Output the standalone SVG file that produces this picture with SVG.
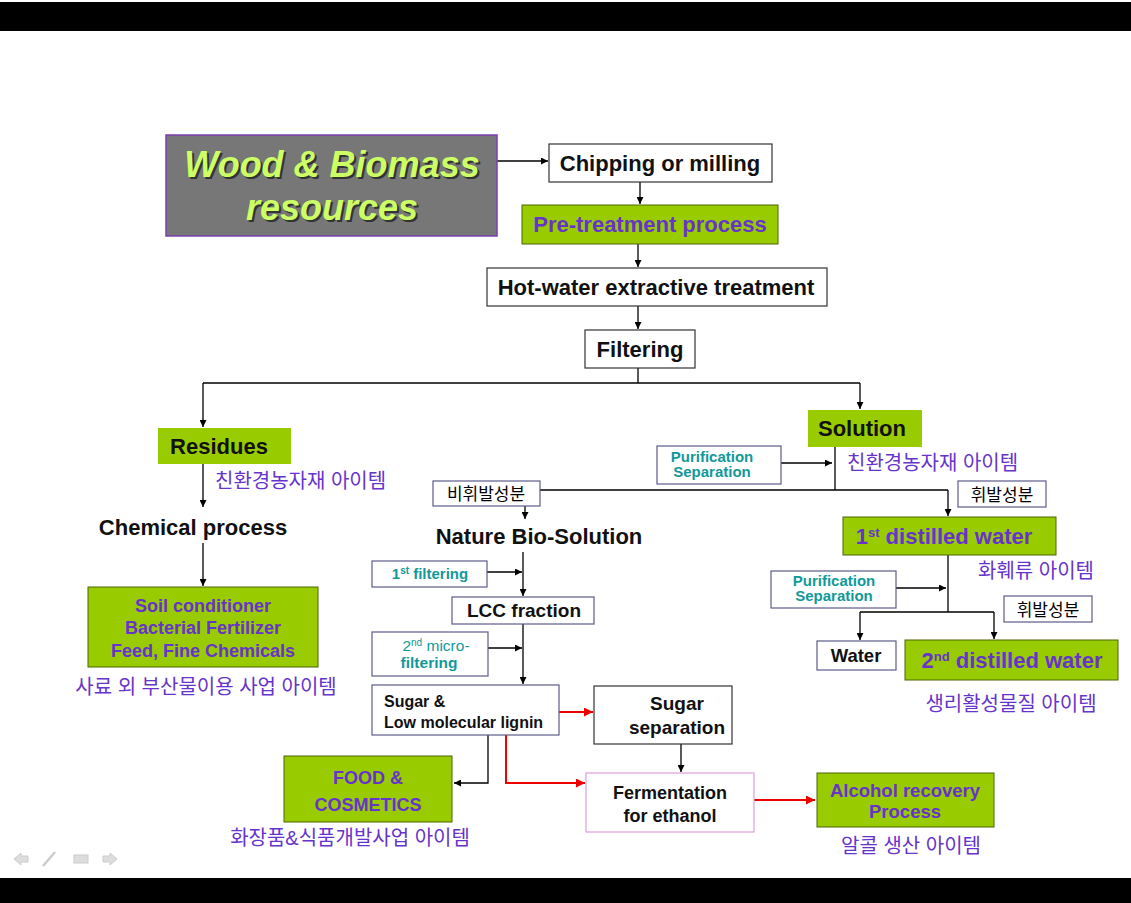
<svg xmlns="http://www.w3.org/2000/svg" width="1131" height="903" viewBox="0 0 1131 903">
  <style>
    .box { fill: #ffffff; stroke: #333333; stroke-width: 1.2; }
    .pbox { fill: #ffffff; stroke: #5c5c8a; stroke-width: 1.2; }
    .green { fill: #99cc00; stroke: #4d6600; stroke-width: 1; }
    .gflat { fill: #99cc00; }
    .t { font-family: "Liberation Sans", Arial, sans-serif; font-size: 22px; font-weight: bold; fill: #111; text-anchor: middle; }
    .s18 { font-size: 18px; }
    .l { text-anchor: start; }
    .pur { fill: #6633cc; }
    .teal { font-family: "Liberation Sans", Arial, sans-serif; font-size: 15px; font-weight: bold; fill: #119999; text-anchor: middle; }
    .kr { font-family: "Liberation Sans", "Noto Sans CJK KR", sans-serif; font-size: 20px; fill: #6633cc; }
    .krb { font-family: "Liberation Sans", "Noto Sans CJK KR", sans-serif; font-size: 17px; fill: #000; text-anchor: middle; }
    .ln { fill: none; stroke: #000; stroke-width: 1.3; }
    .red { fill: none; stroke: #ee0000; stroke-width: 2; }
  </style>
  <defs>
    <marker id="ah" viewBox="0 0 10 10" refX="10" refY="5" markerWidth="7" markerHeight="7" markerUnits="userSpaceOnUse" orient="auto">
      <path d="M0,0 L10,5 L0,10 z" fill="#000"/>
    </marker>
    <marker id="ahr" viewBox="0 0 10 10" refX="10" refY="5" markerWidth="9" markerHeight="9" markerUnits="userSpaceOnUse" orient="auto">
      <path d="M0,0 L10,5 L0,10 z" fill="#ee0000"/>
    </marker>
  </defs>

  <rect width="1131" height="903" fill="#ffffff"/>
  <!-- slide frame bars -->
  <rect x="0" y="2" width="1131" height="29" fill="#000"/>
  <rect x="0" y="878" width="1131" height="25" fill="#000"/>

  <!-- connectors -->
  <g id="connectors">
    <path class="ln" d="M497,161 H548" marker-end="url(#ah)"/>
    <path class="ln" d="M640,182 V204" marker-end="url(#ah)"/>
    <path class="ln" d="M638,244 V267" marker-end="url(#ah)"/>
    <path class="ln" d="M638,306 V329" marker-end="url(#ah)"/>
    <path class="ln" d="M638,368 V383"/>
    <path class="ln" d="M203,383 H860"/>
    <path class="ln" d="M203,383 V427" marker-end="url(#ah)"/>
    <path class="ln" d="M860,383 V409" marker-end="url(#ah)"/>
    <path class="ln" d="M203,464 V507" marker-end="url(#ah)"/>
    <path class="ln" d="M203,543 V586" marker-end="url(#ah)"/>
    <path class="ln" d="M835,447 V490"/>
    <path class="ln" d="M781,463 H832" marker-end="url(#ah)"/>
    <path class="ln" d="M525,490 H948"/>
    <path class="ln" d="M525,490 V519" marker-end="url(#ah)"/>
    <path class="ln" d="M948,490 V516" marker-end="url(#ah)"/>
    <path class="ln" d="M948,555 V612"/>
    <path class="ln" d="M896,588 H946" marker-end="url(#ah)"/>
    <path class="ln" d="M860,612 H994"/>
    <path class="ln" d="M860,612 V640" marker-end="url(#ah)"/>
    <path class="ln" d="M994,612 V639" marker-end="url(#ah)"/>
    <path class="ln" d="M523,552 V596" marker-end="url(#ah)"/>
    <path class="ln" d="M487,572 H522" marker-end="url(#ah)"/>
    <path class="ln" d="M523,624 V684" marker-end="url(#ah)"/>
    <path class="ln" d="M488,648 H522" marker-end="url(#ah)"/>
    <path class="red" d="M559,712 H593" marker-end="url(#ahr)"/>
    <path class="ln" d="M681,744 V772" marker-end="url(#ah)"/>
    <path class="red" d="M506,735 V783 H585" marker-end="url(#ahr)"/>
    <path class="ln" d="M488,735 V783 H454" marker-end="url(#ah)"/>
    <path class="red" d="M754,800 H815" marker-end="url(#ahr)"/>
  </g>

  <g id="wood-biomass">
    <rect x="166" y="135" width="331" height="101" fill="#777777" stroke="#7a3fb0" stroke-width="1.5"/>
    <g font-family="'Liberation Sans', Arial, sans-serif" font-size="36" font-weight="bold" font-style="italic" text-anchor="middle">
      <text x="334" y="179" fill="#333333">Wood &amp; Biomass</text>
      <text x="334" y="222" fill="#333333">resources</text>
      <text x="332" y="177" fill="#ccff66">Wood &amp; Biomass</text>
      <text x="332" y="220" fill="#ccff66">resources</text>
    </g>
  </g>

  <g id="chipping">
    <rect class="box" x="549" y="144" width="223" height="38"/>
    <text class="t" x="660" y="171">Chipping or milling</text>
  </g>
  <g id="pretreatment">
    <rect class="green" x="522" y="205" width="256" height="39"/>
    <text class="t pur" x="650" y="232">Pre-treatment process</text>
  </g>
  <g id="hotwater">
    <rect class="box" x="487" y="268" width="340" height="38"/>
    <text class="t" x="656" y="295">Hot-water extractive treatment</text>
  </g>
  <g id="filtering">
    <rect class="box" x="585" y="330" width="110" height="38"/>
    <text class="t" x="640" y="357">Filtering</text>
  </g>

  <g id="residues">
    <rect class="gflat" x="158" y="428" width="133" height="36"/>
    <text class="t" x="219" y="454">Residues</text>
    <text class="kr" x="215" y="488">친환경농자재 아이템</text>
  </g>
  <g id="chemical">
    <text class="t" x="193" y="535">Chemical process</text>
  </g>
  <g id="soil">
    <rect class="green" x="88" y="587" width="230" height="80"/>
    <text class="t s18 pur" x="203" y="612">Soil conditioner</text>
    <text class="t s18 pur" x="203" y="634">Bacterial Fertilizer</text>
    <text class="t s18 pur" x="203" y="657">Feed, Fine Chemicals</text>
    <text class="kr" x="206" y="694" text-anchor="middle">사료 외 부산물이용 사업 아이템</text>
  </g>

  <g id="solution">
    <rect class="gflat" x="808" y="410" width="114" height="37"/>
    <text class="t" x="862" y="436">Solution</text>
    <text class="kr" x="847" y="470">친환경농자재 아이템</text>
  </g>
  <g id="purification-1">
    <rect class="pbox" x="657" y="446" width="124" height="38"/>
    <text class="teal" x="712" y="462">Purification</text>
    <text class="teal" x="712" y="477">Separation</text>
  </g>
  <g id="nonvolatile">
    <rect class="pbox" x="433" y="481" width="107" height="25"/>
    <text class="krb" x="486" y="500">비휘발성분</text>
  </g>
  <g id="volatile-1">
    <rect class="pbox" x="958" y="481" width="88" height="26"/>
    <text class="krb" x="1002" y="501">휘발성분</text>
  </g>
  <g id="nature-bio">
    <text class="t" x="539" y="544">Nature Bio-Solution</text>
  </g>
  <g id="distilled-1">
    <rect class="green" x="843" y="517" width="213" height="38"/>
    <text class="t pur" x="944" y="544">1<tspan font-size="13" dy="-7">st</tspan><tspan dy="7"> distilled water</tspan></text>
    <text class="kr" x="978" y="578">화훼류 아이템</text>
  </g>
  <g id="purification-2">
    <rect class="pbox" x="771" y="571" width="125" height="37"/>
    <text class="teal" x="834" y="586">Purification</text>
    <text class="teal" x="834" y="601">Separation</text>
  </g>
  <g id="volatile-2">
    <rect class="pbox" x="1004" y="596" width="88" height="26"/>
    <text class="krb" x="1048" y="616">휘발성분</text>
  </g>
  <g id="water">
    <rect class="pbox" x="817" y="641" width="79" height="29"/>
    <text class="t" x="856" y="662" style="font-size:18.5px">Water</text>
  </g>
  <g id="distilled-2">
    <rect class="green" x="905" y="640" width="213" height="40"/>
    <text class="t pur" x="1012" y="668">2<tspan font-size="13" dy="-7">nd</tspan><tspan dy="7"> distilled water</tspan></text>
    <text class="kr" x="1011" y="711" text-anchor="middle">생리활성물질 아이템</text>
  </g>

  <g id="filter-1">
    <rect class="pbox" x="372" y="561" width="115" height="26"/>
    <text class="teal" x="430" y="579">1<tspan font-size="10" dy="-5">st</tspan><tspan dy="5"> filtering</tspan></text>
  </g>
  <g id="lcc">
    <rect class="pbox" x="452" y="597" width="142" height="27"/>
    <text class="t" x="524" y="617" style="font-size:19px">LCC fraction</text>
  </g>
  <g id="filter-2">
    <rect class="pbox" x="372" y="632" width="116" height="44"/>
    <text class="teal" x="436" y="651" style="font-size:15.5px;font-weight:normal">2<tspan font-size="10" dy="-5">nd</tspan><tspan dy="5"> micro-</tspan></text>
    <text class="teal" x="429" y="668" style="font-size:15.5px">filtering</text>
  </g>
  <g id="sugar-lignin">
    <rect class="pbox" x="372" y="685" width="187" height="50"/>
    <text class="t l" x="384" y="707" style="font-size:16px">Sugar &amp;</text>
    <text class="t l" x="384" y="728" style="font-size:16px">Low molecular lignin</text>
  </g>
  <g id="sugar-separation">
    <rect class="box" x="594" y="686" width="138" height="58"/>
    <text class="t" x="677" y="710" style="font-size:19px">Sugar</text>
    <text class="t" x="677" y="734" style="font-size:19px">separation</text>
  </g>
  <g id="food">
    <rect class="green" x="284" y="756" width="168" height="66"/>
    <text class="t s18 pur" x="368" y="784">FOOD &amp;</text>
    <text class="t s18 pur" x="368" y="811">COSMETICS</text>
    <text class="kr" x="350" y="845" text-anchor="middle">화장품&amp;식품개발사업 아이템</text>
  </g>
  <g id="fermentation">
    <rect x="586" y="773" width="168" height="59" fill="#fff" stroke="#dda0dd" stroke-width="1.2"/>
    <text class="t s18" x="670" y="799">Fermentation</text>
    <text class="t s18" x="670" y="822">for ethanol</text>
  </g>
  <g id="alcohol">
    <rect class="green" x="817" y="773" width="177" height="54"/>
    <text class="t pur" x="905" y="797" style="font-size:18.5px">Alcohol recovery</text>
    <text class="t pur" x="905" y="818" style="font-size:18.5px">Process</text>
    <text class="kr" x="911" y="853" text-anchor="middle">알콜 생산 아이템</text>
  </g>

  <!-- slide navigation glyphs -->
  <g id="nav" fill="#dddddd" stroke="#cccccc" stroke-width="1">
    <path d="M14,859 L21,853 V856 H28 V862 H21 V865 z"/>
    <path d="M43,866 L55,852" stroke-width="2.5" fill="none"/>
    <rect x="74" y="855" width="14" height="8"/>
    <path d="M117,859 L110,853 V856 H103 V862 H110 V865 z"/>
  </g>
</svg>
